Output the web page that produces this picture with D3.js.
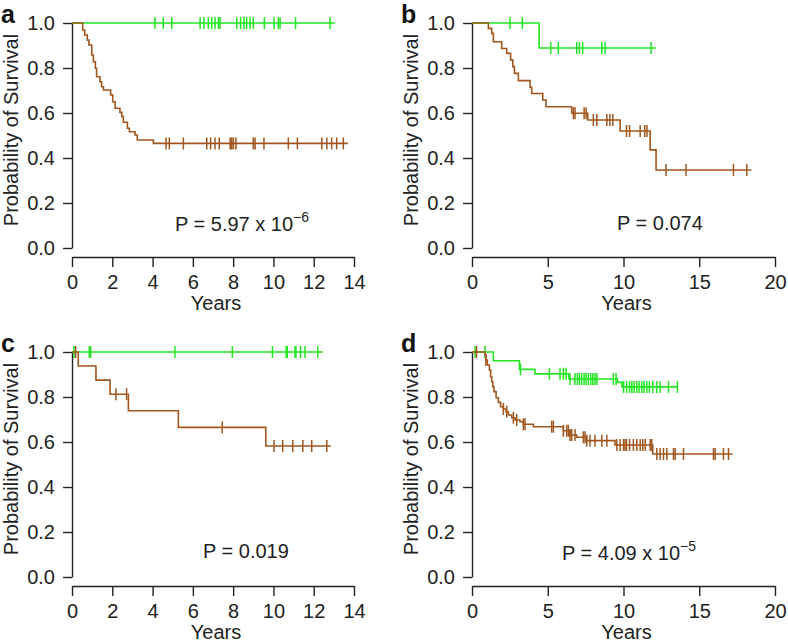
<!DOCTYPE html>
<html>
<head>
<meta charset="utf-8">
<script src="https://cdn.jsdelivr.net/npm/d3@7"></script>
<style>
html,body{margin:0;padding:0;background:#fff;}
svg{display:block;}
text{font-family:"Liberation Sans",Arial,Helvetica,sans-serif;}
</style>
</head>
<body>
<svg id="chart" width="788" height="643"></svg>
<script>
// ---------- DATA ----------
const panelLetters = ["a", "b", "c", "d"];
const xMaxes = [14, 20, 14, 20];
const xTickSteps = [2, 5, 2, 5];
const yTicks = [0, 0.2, 0.4, 0.6, 0.8, 1.0];
const pMain = ["P = 5.97 x 10", "P = 0.074", "P = 0.019", "P = 4.09 x 10"];
const pExp = ["\u22126", "", "", "\u22125"];

// Panel a
const aGreenTimes = [];
const aGreenSurv = [];
const aGreenCensor = [4.12,4.53,4.95,6.36,6.55,6.77,6.94,7.10,7.27,7.35,8.18,8.37,8.54,8.67,8.84,9.00,9.55,10.03,10.25,10.33,11.10,12.81];
const aGreenEnd = 13.06;
const aBrownTimes = [0.53,0.63,0.76,0.84,0.98,1.06,1.16,1.22,1.39,1.47,1.56,1.92,2.02,2.14,2.38,2.47,2.55,2.75,2.85,3.13,3.24,4.04];
const aBrownSurv = [0.969,0.947,0.924,0.902,0.858,0.828,0.799,0.761,0.739,0.717,0.702,0.680,0.650,0.621,0.603,0.584,0.559,0.532,0.517,0.502,0.480,0.465];
const aBrownCensor = [4.67,4.83,5.53,6.69,6.88,7.10,7.31,7.85,7.93,8.01,8.14,9.00,9.09,9.53,10.74,11.19,12.40,12.65,12.89,13.14,13.47];
const aBrownEnd = 13.7;

// Panel b
const bGreenTimes = [4.43];
const bGreenSurv = [0.889];
const bGreenCensor = [2.51,3.32,5.2,5.7,6.91,7.09,7.31,8.57,8.78,11.82];
const bGreenEnd = 12.15;
const bBrownTimes = [1.08,1.30,1.41,1.96,2.29,2.55,2.69,2.80,3.06,3.83,3.94,4.67,4.89,6.58,7.64,9.78,11.76,12.15];
const bBrownSurv = [0.976,0.954,0.917,0.887,0.865,0.836,0.806,0.776,0.744,0.714,0.687,0.658,0.628,0.599,0.569,0.520,0.436,0.347];
const bBrownCensor = [6.69,6.80,7.40,7.53,8.01,8.24,8.90,9.10,9.30,10.2,10.4,11.1,11.4,11.55,12.81,14.13,17.26,18.14];
const bBrownEnd = 18.45;

// Panel c
const cGreenTimes = [];
const cGreenSurv = [];
const cGreenCensor = [0.1,0.86,0.93,5.11,7.96,9.95,10.63,10.69,11.07,11.12,11.35,11.57,12.2];
const cGreenEnd = 12.45;
const cBrownTimes = [0.31,1.19,1.89,2.80,5.28,9.62];
const cBrownSurv = [0.9375,0.875,0.8125,0.739,0.665,0.582];
const cBrownCensor = [0.18,2.18,2.71,7.46,10.03,10.46,10.96,11.46,11.9,12.65];
const cBrownEnd = 12.85;

// Panel d
const dGreenTimes = [1.41,3.13,4.16,6.4,9.6,9.9];
const dGreenSurv = [0.961,0.923,0.903,0.880,0.865,0.845];
const dGreenCensor = [0.2,0.86,3.2,5.11,5.81,6.03,6.21,6.47,6.8,6.96,7.09,7.24,7.4,7.53,7.68,7.84,7.97,8.12,8.24,9.33,9.51,10.0,10.2,10.4,10.55,10.7,10.88,11.03,11.21,11.36,11.54,11.71,11.93,12.2,12.42,12.97,13.56];
const dGreenEnd = 13.6;
const dBrownTimes = [0.86,0.92,1.01,1.15,1.23,1.30,1.37,1.45,1.59,1.74,1.89,2.07,2.25,2.40,2.62,2.84,3.17,3.39,4.05,6.03,6.47,6.91,7.57,9.44,11.93];
const dBrownSurv = [0.987,0.964,0.942,0.920,0.890,0.868,0.846,0.824,0.797,0.776,0.757,0.747,0.735,0.720,0.708,0.698,0.690,0.679,0.668,0.650,0.631,0.621,0.606,0.587,0.547];
const dBrownCensor = [0.3,0.92,2.07,2.29,2.73,2.95,3.39,3.5,5.26,5.37,6.03,6.25,6.36,6.47,6.58,6.80,7.35,7.46,7.57,7.79,8.12,8.57,8.9,9.56,9.78,10.0,10.1,10.2,10.4,10.65,10.88,11.1,11.27,11.43,11.76,11.87,12.2,12.42,12.64,12.86,13.3,13.41,13.96,15.94,16.05,16.6,16.93];
const dBrownEnd = 17.2;

// ---------- STYLE / LAYOUT ----------
const GREEN = "#22e622";
const BROWN = "#a0561e";
const FONT = 20;

const seriesByPanel = [
  [
    {times:aGreenTimes, surv:aGreenSurv, censor:aGreenCensor, end:aGreenEnd, color:GREEN},
    {times:aBrownTimes, surv:aBrownSurv, censor:aBrownCensor, end:aBrownEnd, color:BROWN}
  ],
  [
    {times:bGreenTimes, surv:bGreenSurv, censor:bGreenCensor, end:bGreenEnd, color:GREEN},
    {times:bBrownTimes, surv:bBrownSurv, censor:bBrownCensor, end:bBrownEnd, color:BROWN}
  ],
  [
    {times:cGreenTimes, surv:cGreenSurv, censor:cGreenCensor, end:cGreenEnd, color:GREEN},
    {times:cBrownTimes, surv:cBrownSurv, censor:cBrownCensor, end:cBrownEnd, color:BROWN}
  ],
  [
    {times:dGreenTimes, surv:dGreenSurv, censor:dGreenCensor, end:dGreenEnd, color:GREEN},
    {times:dBrownTimes, surv:dBrownSurv, censor:dBrownCensor, end:dBrownEnd, color:BROWN}
  ]
];

const layout = [
  {ox:0,   oy:0,   pX:175, pY:231},
  {ox:400, oy:0,   pX:617, pY:230},
  {ox:0,   oy:329, pX:203, pY:558},
  {ox:400, oy:329, pX:562, pY:560}
];

const svg = d3.select("#chart");

function survAt(times, surv, t){
  const i = d3.bisectRight(times, t);
  return i === 0 ? 1 : surv[i-1];
}

panelLetters.forEach((letter, pi) => {
  const L = layout[pi];
  const x0 = 72 + L.ox;
  const xRight = (xMaxes[pi] === 14 ? 354 : 375) + L.ox;
  const yTop = 23 + L.oy, yBot = 248 + L.oy;
  const x = d3.scaleLinear().domain([0, xMaxes[pi]]).range([x0, xRight]);
  const y = d3.scaleLinear().domain([0, 1]).range([yBot, yTop]);

  // y axis
  const ya = svg.append("g").attr("transform", `translate(${x0},0)`)
    .call(d3.axisLeft(y).tickValues(yTicks).tickFormat(d3.format(".1f"))
      .tickSize(9).tickSizeOuter(0).tickPadding(8));
  // x axis
  const xa = svg.append("g").attr("transform", `translate(0,${yBot + 9})`)
    .call(d3.axisBottom(x).tickValues(d3.range(0, xMaxes[pi] + 0.001, xTickSteps[pi]))
      .tickFormat(d3.format("d")).tickSize(10).tickSizeOuter(0).tickPadding(8));
  [ya, xa].forEach(g => {
    g.select(".domain").attr("stroke", "#222").attr("stroke-width", 1.4);
    g.selectAll(".tick line").attr("stroke", "#222").attr("stroke-width", 1.4);
    g.selectAll(".tick text").attr("font-size", FONT).attr("fill", "#222")
      .attr("font-family", '"Liberation Sans",Arial,sans-serif');
  });

  // curves
  const line = d3.line().x(d => x(d[0])).y(d => y(d[1])).curve(d3.curveStepAfter);
  seriesByPanel[pi].forEach(s => {
    const pts = [[0, 1]];
    s.times.forEach((t, i) => pts.push([t, s.surv[i]]));
    pts.push([s.end, survAt(s.times, s.surv, s.end)]);
    svg.append("path").datum(pts).attr("d", line)
      .attr("fill", "none").attr("stroke", s.color).attr("stroke-width", 1.6);
    svg.append("g").selectAll("line").data(s.censor).join("line")
      .attr("x1", d => x(d)).attr("x2", d => x(d))
      .attr("y1", d => y(survAt(s.times, s.surv, d)) - 6)
      .attr("y2", d => y(survAt(s.times, s.surv, d)) + 6)
      .attr("stroke", s.color).attr("stroke-width", 1.5);
  });

  // axis titles
  svg.append("text")
    .attr("transform", `translate(${18 + L.ox},${130 + L.oy}) rotate(-90)`)
    .attr("text-anchor", "middle").attr("font-size", FONT).attr("fill", "#222")
    .text("Probability of Survival");
  svg.append("text")
    .attr("x", (x0 + xRight) / 2 + 3).attr("y", 310 + L.oy)
    .attr("text-anchor", "middle").attr("font-size", FONT).attr("fill", "#222")
    .text("Years");

  // panel letter
  svg.append("text").attr("x", 1 + L.ox).attr("y", 23 + L.oy)
    .attr("font-size", 25).attr("font-weight", "bold").attr("fill", "#111")
    .text(letter);

  // p value
  const pt = svg.append("text").attr("x", L.pX).attr("y", L.pY)
    .attr("font-size", FONT).attr("fill", "#222");
  pt.append("tspan").text(pMain[pi]);
  if (pExp[pi]) {
    pt.append("tspan").attr("dy", -9).attr("font-size", 14).text(pExp[pi]);
  }
});
</script>
</body>
</html>
